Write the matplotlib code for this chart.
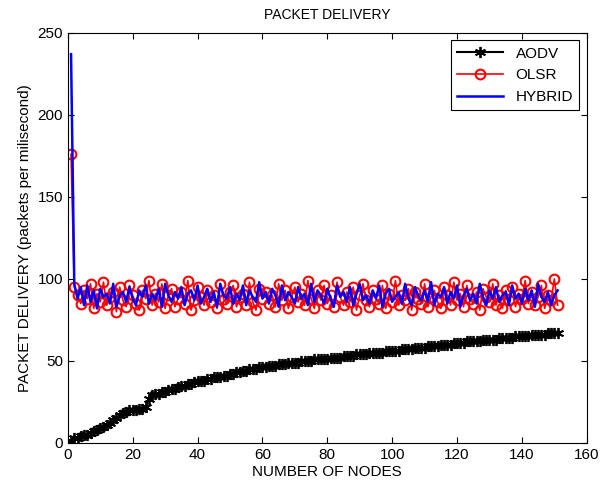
import numpy as np
import matplotlib.pyplot as plt

plt.rcParams['font.family'] = ['Liberation Sans', 'DejaVu Sans']

nodes = list(range(1, 152))

# AODV packet delivery (packets per milisecond)
aodv = [1, 3, 3, 4, 5, 5, 6, 7, 8, 9,
        10, 11, 12, 14, 15, 17, 18, 19, 20, 20,
        20, 21, 21, 22, 27, 29, 30, 30, 31, 31,
        32, 33, 33, 34, 35, 35, 36, 36, 37, 38,
        38, 38, 39, 39, 40, 40, 40, 41, 41, 42,
        42, 43, 43, 44, 44, 45, 45, 45, 46, 46,
        46, 47, 47, 47, 48, 48, 48, 49, 49, 49,
        49, 50, 50, 50, 50, 51, 51, 51, 51, 51,
        52, 52, 52, 52, 53, 53, 53, 53, 54, 54,
        54, 54, 55, 55, 55, 55, 55, 56, 56, 56,
        56, 56, 57, 57, 57, 57, 58, 58, 58, 58,
        59, 59, 59, 59, 60, 60, 60, 60, 61, 61,
        61, 61, 62, 62, 62, 62, 62, 63, 63, 63,
        63, 63, 64, 64, 64, 64, 64, 65, 65, 65,
        65, 65, 66, 66, 66, 66, 66, 67, 67, 67,
        67]

olsr = [176,
        95, 90, 85, 93, 88, 97, 82, 91, 86, 98,
        84, 89, 92, 80, 95, 87, 83, 96, 90, 85,
        81, 93, 88, 99, 84, 91, 86, 97, 82, 90,
        94, 83, 88, 92, 85, 99, 81, 87, 95, 89,
        84, 93, 86, 90, 82, 97, 88, 85, 92, 96,
        83, 89, 91, 84, 98, 86, 81, 94, 88, 92,
        85, 90, 83, 97, 87, 93, 82, 89, 95, 86,
        91, 84, 99, 88, 82, 93, 87, 96, 85, 90,
        83, 98, 89, 84, 92, 86, 95, 81, 90, 97,
        87, 83, 93, 88, 85, 96, 82, 91, 86, 99,
        84, 90, 87, 94, 81, 92, 88, 85, 97, 83,
        89, 93, 86, 82, 95, 90, 84, 98, 87, 91,
        83, 96, 88, 85, 92, 81, 94, 89, 86, 97,
        84, 90, 82, 93, 87, 95, 83, 91, 88, 99,
        85, 92, 84, 89, 96, 82, 90, 87, 100, 84]

hybrid = [237,
          97, 88, 95, 84, 96, 86, 93, 82, 94, 89,
          91, 85, 97, 83, 90, 92, 86, 95, 88, 84,
          93, 89, 96, 85, 91, 87, 94, 83, 97, 90,
          86, 92, 88, 95, 84, 91, 93, 87, 96, 85,
          89, 94, 86, 92, 83, 97, 90, 88, 95, 85,
          91, 87, 96, 84, 93, 89, 86, 98, 88, 92,
          85, 94, 90, 83, 96, 87, 92, 89, 85, 95,
          88, 91, 84, 97, 86, 93, 90, 85, 94, 88,
          83, 96, 89, 92, 86, 95, 84, 91, 97, 87,
          90, 85, 93, 88, 96, 83, 91, 94, 86, 89,
          92, 85, 97, 88, 84, 95, 90, 87, 93, 86,
          98, 84, 91, 89, 95, 85, 92, 88, 96, 83,
          90, 94, 87, 91, 85, 97, 89, 84, 93, 88,
          95, 86, 90, 92, 84, 96, 88, 91, 85, 94,
          87, 93, 83, 97, 89, 86, 92, 84, 90, 93]

fig = plt.figure(figsize=(6, 4.9), dpi=100)
ax = fig.add_axes([0.113, 0.096, 0.865, 0.837])

ax.plot(nodes, aodv, color='black', lw=1.5, marker=(6, 2, 0), ms=8, mew=1.3, label='AODV')
ax.plot(nodes, olsr, color='red', lw=1.2, marker='o', ms=7, mfc='none', mew=1.5, label='OLSR')
ax.plot(nodes, hybrid, color='blue', lw=1.8, label='HYBRID')

ax.set_xlim(0, 160)
ax.set_ylim(0, 250)
ax.set_xticks(np.arange(0, 161, 20))
ax.set_yticks(np.arange(0, 251, 50))
ax.tick_params(direction='in', top=True, right=True, labelsize=11, length=4)

ax.set_title('PACKET DELIVERY', fontsize=10, pad=10)
ax.set_xlabel('NUMBER OF NODES', fontsize=11, labelpad=2)
ax.set_ylabel('PACKET DELIVERY (packets per milisecond)', fontsize=11)

leg = ax.legend(loc='upper right', fontsize=11, fancybox=False, framealpha=1,
                edgecolor='black', borderaxespad=0.5, handlelength=3.0)
leg.get_frame().set_linewidth(0.8)

fig.savefig('out.png', dpi=100)
